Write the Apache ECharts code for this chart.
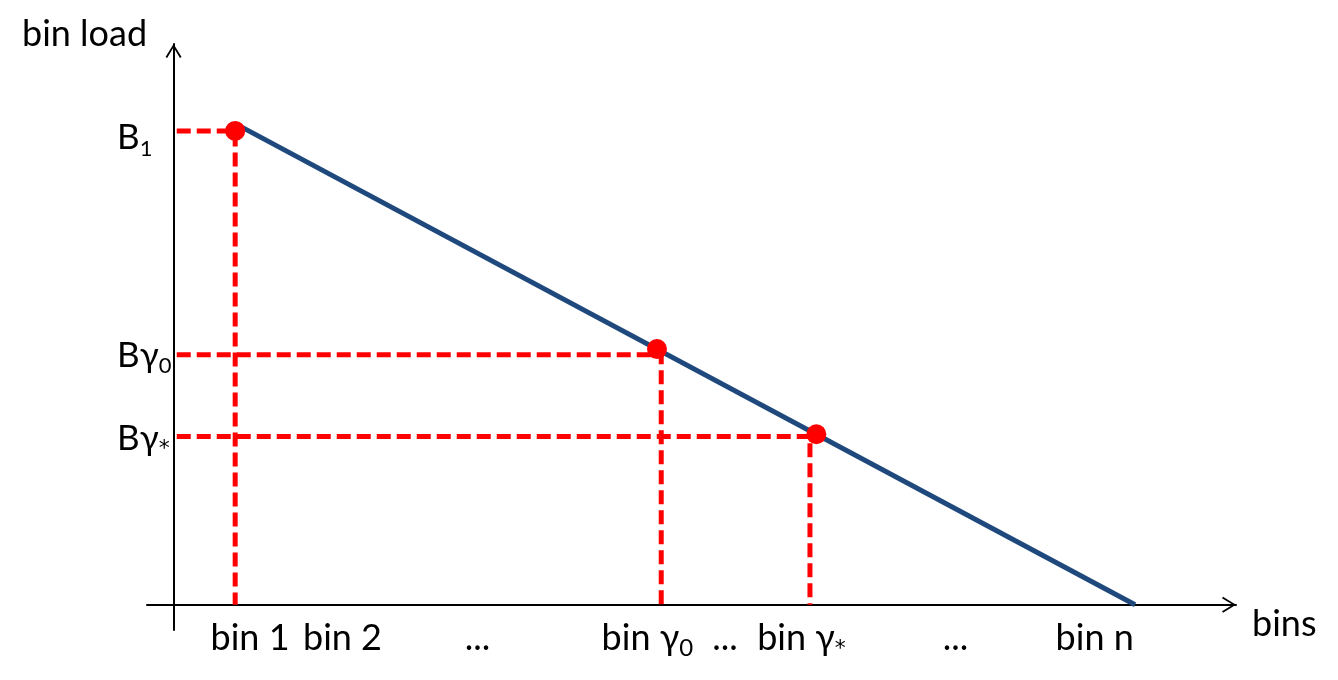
<!DOCTYPE html>
<html lang="en">

<head>
    <meta charset="UTF-8">
    <title>Bin load</title>
    <script src="https://cdn.jsdelivr.net/npm/echarts@6/dist/echarts.min.js"></script>
    <style>
        html, body { margin: 0; padding: 0; background: #fff; }
        #chart { width: 1338px; height: 680px; }
    </style>
</head>

<body>
    <div id="chart"></div>
    <script>
        // x labels under the axis (position in bin units, "_" marks a subscript)
        const binNames = ['bin 1', 'bin 2', '...', 'bin γ_0', '...', 'bin γ_*', '...', 'bin n'];
        const binLabelAt = [7.2, 15.9, 28.6, 44.6, 51.9, 59.1, 73.6, 86.7];

        // y labels at the left of the axis
        const loadNames = ['B_1', 'Bγ_0', 'Bγ_*'];
        const loadLabelAt = [83.3, 44.5, 29.6];

        // the three marked points on the load line
        const markedBins = [5.8, 45.5, 60.5];
        const markedLoads = [84.5, 45.6, 30.4];

        // dashed guide lines (hand drawn, slightly off the dots)
        const guideBins = [5.8, 45.9, 59.9];
        const guideLoads = [84.5, 44.6, 30.0];

        // the decreasing load line, bin 1 -> bin n
        const loadLine = [[5.8, 85.8], [90.5, 0]];

        const FONT = 'Lato';
        const RED = '#FF0000';
        const BLUE = '#1F497D';

        function toRich(s) {
            let parts = s.split('_');
            if (parts.length < 2) return '{n|' + parts[0] + '}';
            return '{n|' + parts[0] + '}{' + (parts[1] === '*' ? 'st' : 's') + '|' + parts[1] + '}';
        }

        function richFor(size, sub) {
            return {
                n: { fontSize: size, fontFamily: FONT, lineHeight: 44, color: '#000' },
                s: { fontSize: sub, fontFamily: FONT, lineHeight: sub, color: '#000', verticalAlign: 'bottom' },
                st: { fontSize: 22, fontFamily: 'DejaVu Sans', lineHeight: 14, color: '#000', verticalAlign: 'bottom' }
            };
        }

        const arrow = 'path://M8,0 L16,13 L14.4,14 L8,3.2 L1.6,14 L0,13 Z';

        // dashed guides: (0,load) -> (bin,load) -> (bin,0)
        let guides = guideBins.map(function (b, i) {
            return {
                type: 'line',
                data: [[0.3, guideLoads[i]], [b, guideLoads[i]], [b, 0]],
                symbol: 'none',
                silent: true,
                z: 2,
                lineStyle: { color: RED, width: 5, type: [14, 6] }
            };
        });

        let myChart = echarts.init(document.getElementById('chart'));

        let option = {
            animation: false,
            title: [
                { text: 'bin load', left: 22, top: 16, padding: 0,
                  textStyle: { fontFamily: FONT, fontSize: 36, fontWeight: 'normal', color: '#000' } },
                { text: 'bins', left: 1252, top: 606, padding: 0,
                  textStyle: { fontFamily: FONT, fontSize: 36, fontWeight: 'normal', color: '#000' } }
            ],
            grid: { left: 147, right: 102, top: 44, bottom: 50 },
            xAxis: {
                type: 'value',
                min: -2.5,
                max: 100,
                splitLine: { show: false },
                axisTick: { show: false },
                axisLine: {
                    onZero: true,
                    symbol: ['none', arrow],
                    symbolSize: [16, 14],
                    symbolOffset: [0, -7],
                    lineStyle: { color: '#000', width: 2 }
                },
                axisLabel: {
                    customValues: binLabelAt,
                    margin: -14,
                    formatter: function (v, idx) {
                        let i = binLabelAt.indexOf(v);
                        return toRich(binNames[i >= 0 ? i : idx]);
                    },
                    rich: richFor(36, 24)
                }
            },
            yAxis: {
                type: 'value',
                min: -4.5,
                max: 100,
                splitLine: { show: false },
                axisTick: { show: false },
                axisLine: {
                    onZero: true,
                    symbol: ['none', arrow],
                    symbolSize: [16, 14],
                    symbolOffset: [0, -7],
                    lineStyle: { color: '#000', width: 2 }
                },
                axisLabel: {
                    customValues: loadLabelAt,
                    align: 'left',
                    margin: 30,
                    formatter: function (v, idx) {
                        let i = loadLabelAt.indexOf(v);
                        return toRich(loadNames[i >= 0 ? i : idx]);
                    },
                    rich: richFor(35, 22)
                }
            },
            series: guides.concat([
                {
                    type: 'line',
                    data: loadLine,
                    symbol: 'none',
                    silent: true,
                    z: 3,
                    lineStyle: { color: BLUE, width: 5 }
                },
                {
                    type: 'scatter',
                    data: markedBins.map(function (b, i) { return [b, markedLoads[i]]; }),
                    symbol: 'circle',
                    symbolSize: 20,
                    silent: true,
                    z: 4,
                    itemStyle: { color: RED, opacity: 1 }
                }
            ])
        };

        myChart.setOption(option);
    </script>
</body>

</html>
